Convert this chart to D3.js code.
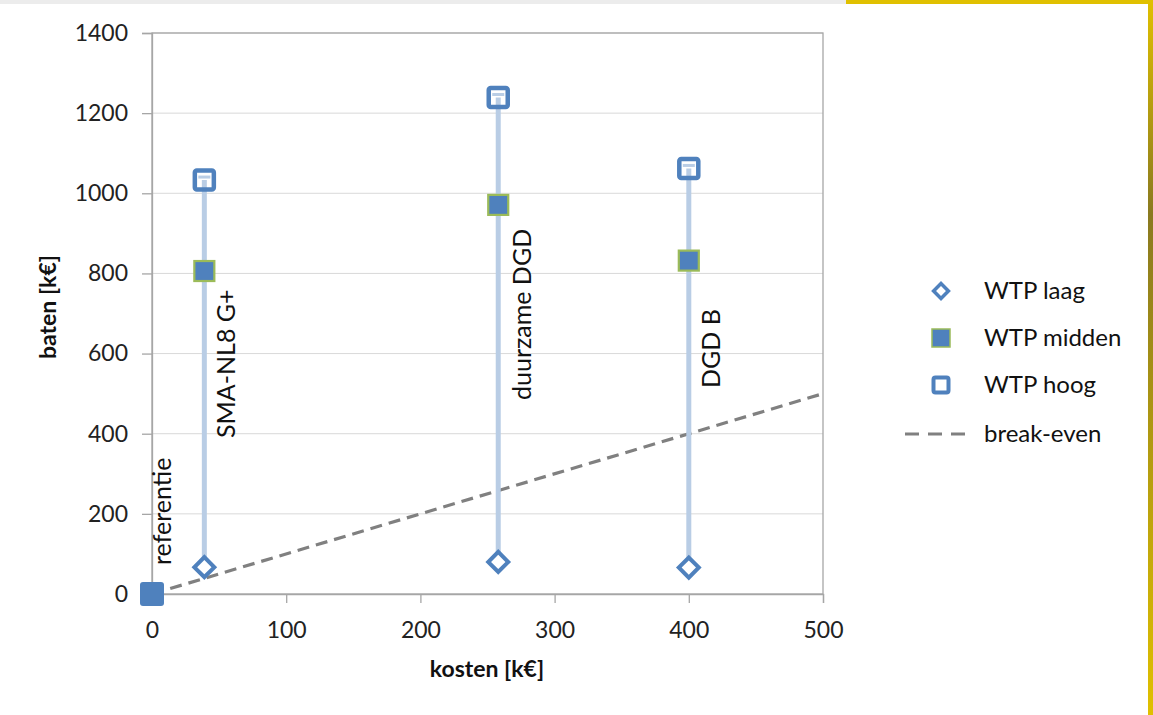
<!DOCTYPE html>
<html><head><meta charset="utf-8">
<script src="https://cdn.jsdelivr.net/npm/d3@7"></script>
<style>body{margin:0;background:#fff;overflow:hidden}svg{display:block}</style>
</head><body>
<script>
const projects = ["referentie", "SMA-NL8 G+", "duurzame DGD", "DGD B"];
const kosten = [0, 39, 258, 400];
const wtpLaag = [0, 67, 80, 66];
const wtpMidden = [0, 806, 971, 832];
const wtpHoog = [0, 1033, 1239, 1062];
const breakEven = [[0, 0], [500, 500]];
const xTicks = [0, 100, 200, 300, 400, 500];
const yTicks = [0, 200, 400, 600, 800, 1000, 1200, 1400];
const legendLabels = ["WTP laag", "WTP midden", "WTP hoog", "break-even"];

const W = 1153, H = 715;
const font = "Lato, 'Open Sans', sans-serif";
const blue = "#4f81bd", light = "#b9cde5", green = "#9bbb59";
const svg = d3.select("body").append("svg").attr("width", W).attr("height", H);

// frame decorations
svg.append("rect").attr("x", 0).attr("y", 0).attr("width", 846).attr("height", 4).attr("fill", "#ececec");
svg.append("rect").attr("x", 846).attr("y", 0).attr("width", 307).attr("height", 4).attr("fill", "#e0c000");
const grad = svg.append("defs").append("linearGradient").attr("id", "rg").attr("x1", 0).attr("y1", 0).attr("x2", 0).attr("y2", 1);
grad.append("stop").attr("offset", "0").attr("stop-color", "#e0c000");
grad.append("stop").attr("offset", "0.3").attr("stop-color", "#8a7a20");
grad.append("stop").attr("offset", "1").attr("stop-color", "#e0c000");
svg.append("rect").attr("x", 1148).attr("y", 0).attr("width", 5).attr("height", H).attr("fill", "url(#rg)");

const x = d3.scaleLinear().domain([0, 500]).range([152, 823]);
const y = d3.scaleLinear().domain([0, 1400]).range([594, 33]);

// gridlines
svg.append("g").selectAll("line").data(yTicks.slice(1)).join("line")
  .attr("x1", x(0)).attr("x2", x(500)).attr("y1", d => y(d)).attr("y2", d => y(d))
  .attr("stroke", "#d9d9d9").attr("stroke-width", 1);
// plot border
svg.append("rect").attr("x", x(0)).attr("y", y(1400)).attr("width", x(500) - x(0)).attr("height", y(0) - y(1400))
  .attr("fill", "none").attr("stroke", "#a6a6a6").attr("stroke-width", 1.3);

// axes
const xAxis = svg.append("g").attr("transform", `translate(0,${y(0)})`)
  .call(d3.axisBottom(x).tickValues(xTicks).tickSize(9).tickPadding(19).tickFormat(d3.format("d")));
const yAxis = svg.append("g").attr("transform", `translate(${x(0)},0)`)
  .call(d3.axisLeft(y).tickValues(yTicks).tickSize(10).tickPadding(14).tickFormat(d3.format("d")));
[xAxis, yAxis].forEach(a => {
  a.select(".domain").attr("stroke", "#a6a6a6").attr("stroke-width", 1.3);
  a.selectAll(".tick line").attr("stroke", "#a6a6a6").attr("stroke-width", 1.3);
  a.selectAll("text").attr("font-family", font).attr("font-size", 23).attr("fill", "#222");
});

// axis titles
svg.append("text").attr("x", 487).attr("y", 677).attr("text-anchor", "middle")
  .attr("font-family", font).attr("font-size", 23).attr("font-weight", "bold").attr("fill", "#111").text("kosten [k€]");
svg.append("text").attr("transform", "translate(56,307) rotate(-90)").attr("text-anchor", "middle")
  .attr("font-family", font).attr("font-size", 23).attr("font-weight", "bold").attr("fill", "#111").text("baten [k€]");

// break-even
svg.append("path").attr("d", d3.line().x(d => x(d[0])).y(d => y(d[1]))(breakEven))
  .attr("stroke", "#808080").attr("stroke-width", 3.2).attr("stroke-dasharray", "12,7").attr("fill", "none");

const idx = d3.range(1, projects.length);
// high-low lines
svg.append("g").selectAll("line").data(idx).join("line")
  .attr("x1", i => x(kosten[i])).attr("x2", i => x(kosten[i]))
  .attr("y1", i => y(wtpLaag[i])).attr("y2", i => y(wtpHoog[i]))
  .attr("stroke", light).attr("stroke-width", 5);
// caps inside hoog
svg.append("g").selectAll("line").data(idx).join("line")
  .attr("x1", i => x(kosten[i]) - 6).attr("x2", i => x(kosten[i]) + 6)
  .attr("y1", i => y(wtpHoog[i]) - 3).attr("y2", i => y(wtpHoog[i]) - 3)
  .attr("stroke", light).attr("stroke-width", 3);

// laag diamonds
svg.append("g").selectAll("path").data(idx).join("path")
  .attr("d", d3.symbol(d3.symbolSquare, 200)())
  .attr("transform", i => `translate(${x(kosten[i])},${y(wtpLaag[i])}) rotate(45)`)
  .attr("fill", "#fff").attr("stroke", blue).attr("stroke-width", 4);
// midden squares
svg.append("g").selectAll("rect").data(idx).join("rect")
  .attr("x", i => x(kosten[i]) - 10).attr("y", i => y(wtpMidden[i]) - 10)
  .attr("width", 20).attr("height", 20).attr("fill", blue).attr("stroke", green).attr("stroke-width", 2.2);
// hoog squares
svg.append("g").selectAll("rect").data(idx).join("rect")
  .attr("x", i => x(kosten[i]) - 9.5).attr("y", i => y(wtpHoog[i]) - 9.5)
  .attr("width", 19).attr("height", 19).attr("rx", 2).attr("fill", "none").attr("stroke", blue).attr("stroke-width", 4.5);
// referentie marker
svg.append("rect").attr("x", x(kosten[0]) - 12).attr("y", y(wtpHoog[0]) - 12)
  .attr("width", 24).attr("height", 24).attr("rx", 3).attr("fill", blue);

// project labels
const labelPos = [[171, 565], [235, 438], [531, 400], [720, 388]];
svg.append("g").selectAll("text").data(projects).join("text")
  .attr("transform", (d, i) => `translate(${labelPos[i][0]},${labelPos[i][1]}) rotate(-90)`)
  .attr("font-family", font).attr("font-size", 25).attr("fill", "#111").text(d => d);

// legend
const ly = [291, 338, 385, 434];
const lg = svg.append("g");
lg.append("path").attr("d", d3.symbol(d3.symbolSquare, 110)()).attr("transform", `translate(941,${ly[0]}) rotate(45)`)
  .attr("fill", "#fff").attr("stroke", blue).attr("stroke-width", 3.5);
lg.append("rect").attr("x", 932).attr("y", ly[1] - 9).attr("width", 18).attr("height", 18).attr("fill", blue).attr("stroke", green).attr("stroke-width", 1.5);
lg.append("rect").attr("x", 933.5).attr("y", ly[2] - 7.5).attr("width", 15).attr("height", 15).attr("rx", 2).attr("fill", "#fff").attr("stroke", blue).attr("stroke-width", 4);
lg.append("line").attr("x1", 905).attr("x2", 973).attr("y1", ly[3]).attr("y2", ly[3])
  .attr("stroke", "#808080").attr("stroke-width", 3.2).attr("stroke-dasharray", "14,9");
lg.selectAll("text").data(legendLabels).join("text")
  .attr("x", 984).attr("y", (d, i) => ly[i] + 8)
  .attr("font-family", font).attr("font-size", 24).attr("fill", "#111").text(d => d);
</script>
</body></html>
